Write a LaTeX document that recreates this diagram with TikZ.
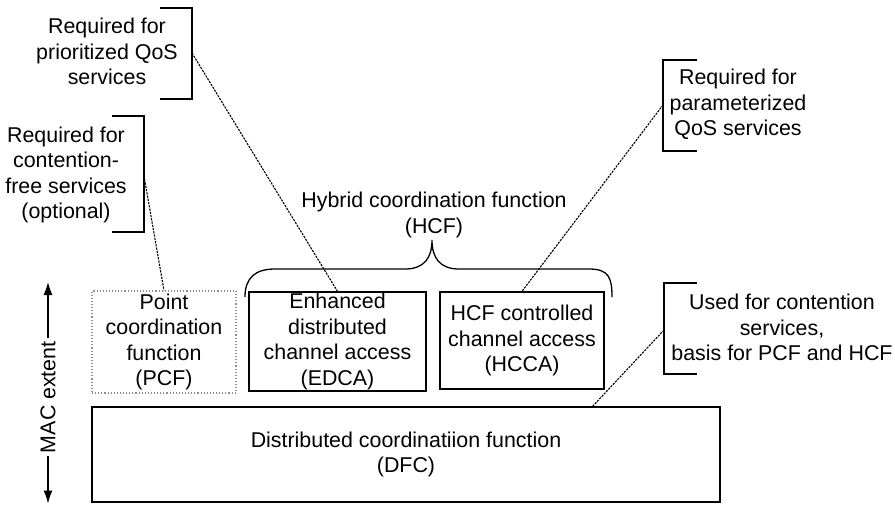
\documentclass[tikz,border=0pt]{standalone}
\usepackage{fontspec}
\setmainfont{Liberation Sans}
\usetikzlibrary{arrows.meta}
\begin{document}
\begin{tikzpicture}[x=1pt,y=-1pt,
  txt/.style={font=\fontsize{21.4}{25.5}\selectfont, align=center, inner sep=0pt},
  boxnode/.style={txt, draw, line width=1.3pt},
  pcfbox/.style={txt, draw=black!45, line width=1.1pt, dotted},
  bracketline/.style={line width=1.3pt},
  tapline/.style={line width=1.1pt, dash pattern=on 2.2pt off 1.1pt},
]
\useasboundingbox (0,0) rectangle (895,504);

% function boxes
\node[pcfbox, minimum width=144pt, minimum height=102pt] (pcf) at (164,342)
  {Point\\coordination\\function\\(PCF)};
\node[boxnode, minimum width=177pt, minimum height=99pt] (edca) at (337.5,341.5)
  {Enhanced\\distributed\\channel access\\(EDCA)};
\node[boxnode, minimum width=164pt, minimum height=97pt] (hcca) at (522,340.5)
  {HCF controlled\\channel access\\(HCCA)};
\node[boxnode, minimum width=628pt, minimum height=95pt] (dfc) at (406,454.5)
  {Distributed coordinatiion function\\(DFC)};

% hybrid coordination function title and brace
\node[txt] (hcf) at (434,215) {Hybrid coordination function\\(HCF)};
\draw[bracketline] (245,297) .. controls (245,278) and (255,269) .. (275,269)
  -- (405,269) .. controls (424,269) and (432,258) .. (432,240)
  .. controls (432,258) and (440,269) .. (459,269)
  -- (589,269) .. controls (609,269) and (612,278) .. (612,297);

% annotation texts
\node[txt] (n1) at (107,51.5) {Required for\\prioritized QoS\\services};
\node[txt] (n2) at (66,175) {Required for\\contention-\\free services\\(optional)};
\node[txt] (n3) at (738,104.5) {Required for\\parameterized\\QoS services};
\node[txt] (n4) at (782,327.5) {Used for contention\\services,\\basis for PCF and HCF};

% annotation brackets
\draw[bracketline] (160,8) -- (192,8) -- (192,99) -- (160,99);
\coordinate (t1) at (192,53);
\draw[bracketline] (112,116) -- (144,116) -- (144,232) -- (112,232);
\coordinate (t2) at (144,176);
\draw[bracketline] (697,60) -- (663,60) -- (663,151) -- (697,151);
\coordinate (t3) at (663,105);
\draw[bracketline] (697,283) -- (664,283) -- (664,374) -- (697,374);
\coordinate (t4) at (664,330);

% dotted leaders
\coordinate (dfctap) at (592,407);
\draw[tapline] (t1) -- (edca.north);
\draw[tapline] (t2) -- (pcf.north);
\draw[tapline] (t3) -- (hcca.north);
\draw[tapline] (t4) -- (dfctap);

% MAC extent
\coordinate (mtop) at (48,282);
\coordinate (mbot) at (48,503.5);
\draw[line width=1.3pt, {Latex[length=13pt,width=9pt]}-{Latex[length=13pt,width=9pt]}]
  (mtop) -- (mbot) node[txt, pos=0.52, fill=white, rotate=90, inner xsep=3pt, inner ysep=2pt] (mac) {MAC extent};
\end{tikzpicture}
\end{document}
